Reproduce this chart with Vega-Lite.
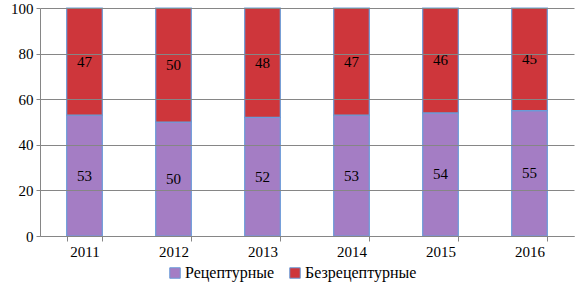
{
  "$schema": "https://vega.github.io/schema/vega-lite/v6.json",
  "width": 534,
  "height": 228,
  "autosize": {"type": "none"},
  "padding": {"left": 40, "top": 8, "right": 3, "bottom": 58},
  "background": "white",
  "config": {
    "font": "Liberation Serif",
    "view": {"stroke": null},
    "axis": {"labelFont": "Liberation Serif", "labelFontSize": 15, "labelColor": "#000", "domainColor": "#868686", "tickColor": "#868686", "gridColor": "#868686", "title": null}
  },
  "data": {
    "values": [
      {"year": "2011", "type": "Рецептурные", "value": 53, "order": 1},
      {"year": "2011", "type": "Безрецептурные", "value": 47, "order": 2},
      {"year": "2012", "type": "Рецептурные", "value": 50, "order": 1},
      {"year": "2012", "type": "Безрецептурные", "value": 50, "order": 2},
      {"year": "2013", "type": "Рецептурные", "value": 52, "order": 1},
      {"year": "2013", "type": "Безрецептурные", "value": 48, "order": 2},
      {"year": "2014", "type": "Рецептурные", "value": 53, "order": 1},
      {"year": "2014", "type": "Безрецептурные", "value": 47, "order": 2},
      {"year": "2015", "type": "Рецептурные", "value": 54, "order": 1},
      {"year": "2015", "type": "Безрецептурные", "value": 46, "order": 2},
      {"year": "2016", "type": "Рецептурные", "value": 55, "order": 1},
      {"year": "2016", "type": "Безрецептурные", "value": 45, "order": 2}
    ]
  },
  "encoding": {
    "x": {
      "field": "year", "type": "nominal",
      "scale": {"paddingInner": 0.6, "paddingOuter": 0.3},
      "axis": {"labelAngle": 0, "tickBand": "extent", "tickSize": 5, "grid": false, "labelPadding": 3}
    },
    "y": {
      "field": "value", "type": "quantitative", "stack": "zero",
      "scale": {"domain": [0, 100]},
      "axis": {"values": [0, 20, 40, 60, 80, 100], "tickSize": 4, "grid": true, "zindex": 1, "labelPadding": 3}
    },
    "order": {"field": "order", "type": "quantitative"}
  },
  "layer": [
    {
      "mark": {"type": "bar", "stroke": "#6A9BD8", "strokeWidth": 1.2},
      "encoding": {
        "color": {
          "field": "type", "type": "nominal",
          "scale": {"domain": ["Рецептурные", "Безрецептурные"], "range": ["#A47DC4", "#CE363B"]},
          "legend": {
            "title": null, "orient": "none", "direction": "horizontal",
            "legendX": 127, "legendY": 257,
            "symbolType": "square", "symbolSize": 110, "symbolStrokeColor": "#6A9BD8", "symbolStrokeWidth": 1,
            "labelFont": "Liberation Serif", "labelFontSize": 16, "labelColor": "#000",
            "columnPadding": 12, "symbolOffset": 0, "labelOffset": 2
          }
        }
      }
    },
    {
      "mark": {"type": "text", "font": "Liberation Serif", "fontSize": 15, "color": "#000"},
      "encoding": {
        "y": {"field": "value", "type": "quantitative", "stack": "zero", "bandPosition": 0.5},
        "text": {"field": "value", "type": "quantitative"}
      }
    }
  ]
}
